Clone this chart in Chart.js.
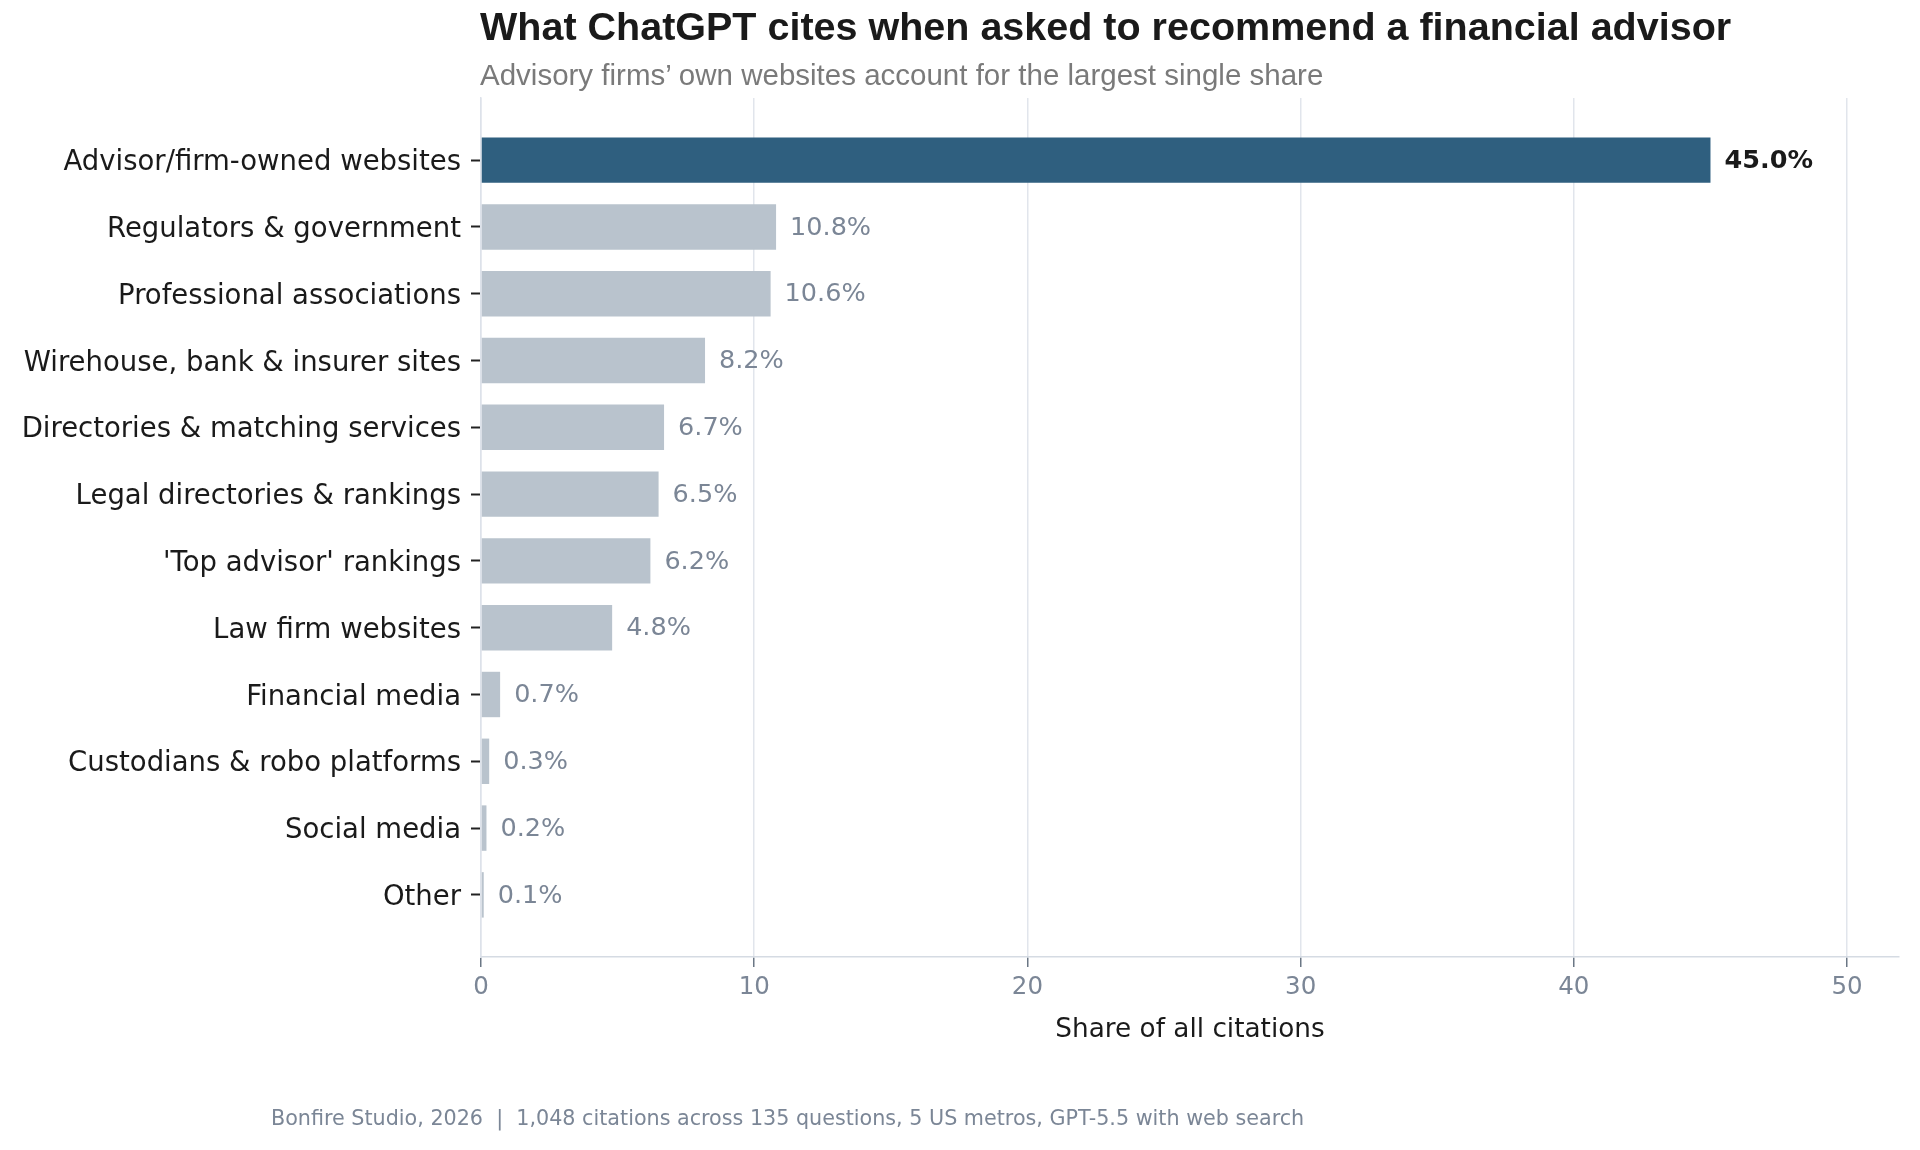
<!DOCTYPE html>
<html>
<head>
<meta charset="utf-8">
<script src="https://cdn.jsdelivr.net/npm/chart.js@4"></script>
<style>
    body { margin: 0; background: #fff; }
    #wrap { position: relative; width: 1920px; height: 1150px; }
    #grafico { position: absolute; left: 0; top: 0; }
    .titulo { position: absolute; left: 480px; top: 4px; font-family: "Liberation Sans", Arial, sans-serif; font-weight: bold; font-size: 39.5px; color: #1a1a1a; white-space: nowrap; }
    .subtitulo { position: absolute; left: 480px; top: 58px; font-family: "Liberation Sans", Arial, sans-serif; font-size: 29.5px; color: #7a7a7a; white-space: nowrap; }
    .pie { position: absolute; left: 271px; top: 1107px; font-family: "DejaVu Sans", sans-serif; font-size: 20.7px; line-height: 1.15; color: #7b8696; white-space: pre; }
</style>
</head>
<body>
<div id="wrap">
    <canvas id="grafico" width="1920" height="1150"></canvas>
    <div class="titulo">What ChatGPT cites when asked to recommend a financial advisor</div>
    <div class="subtitulo">Advisory firms’ own websites account for the largest single share</div>
    <div class="pie">Bonfire Studio, 2026  |  1,048 citations across 135 questions, 5 US metros, GPT-5.5 with web search</div>
</div>
<script>
// Datos del grafico
const categorias = [
    "Advisor/firm-owned websites",
    "Regulators & government",
    "Professional associations",
    "Wirehouse, bank & insurer sites",
    "Directories & matching services",
    "Legal directories & rankings",
    "'Top advisor' rankings",
    "Law firm websites",
    "Financial media",
    "Custodians & robo platforms",
    "Social media",
    "Other"
];
const porcentajes = [45.0, 10.8, 10.6, 8.2, 6.7, 6.5, 6.2, 4.8, 0.7, 0.3, 0.2, 0.1];
const ticksX = [0, 10, 20, 30, 40, 50];

const colorDestacado = "#2f5f7f";
const colorNormal = "#b9c3cd";

// etiquetas de valor al final de cada barra
const etiquetasPlugin = {
    id: "etiquetas",
    afterDatasetsDraw(chart) {
        const ctx = chart.ctx;
        const meta = chart.getDatasetMeta(0);
        ctx.save();
        ctx.textBaseline = "middle";
        ctx.textAlign = "left";
        meta.data.forEach((bar, i) => {
            if (i === 0) {
                ctx.font = "bold 25.5px 'DejaVu Sans'";
                ctx.fillStyle = "#1a1a1a";
            } else {
                ctx.font = "25.5px 'DejaVu Sans'";
                ctx.fillStyle = "#7b8696";
            }
            ctx.fillText(porcentajes[i].toFixed(1) + "%", bar.x + 14, bar.y + 1);
        });
        ctx.restore();
    }
};

const ctx = document.getElementById("grafico").getContext("2d");

new Chart(ctx, {
    type: "bar",
    data: {
        datasets: [{
            data: porcentajes.map((v, i) => ({ x: v, y: i })),
            backgroundColor: porcentajes.map((v, i) => i === 0 ? colorDestacado : colorNormal),
            borderWidth: 0,
            barPercentage: 0.68,
            categoryPercentage: 1
        }]
    },
    options: {
        indexAxis: "y",
        responsive: false,
        animation: false,
        layout: { padding: { left: 10, right: 21, top: 98, bottom: 100 } },
        plugins: {
            legend: { display: false },
            tooltip: { enabled: false }
        },
        scales: {
            x: {
                type: "linear",
                min: 0,
                max: 51.9,
                afterBuildTicks: axis => { axis.ticks = ticksX.map(v => ({ value: v })); },
                afterFit: scale => { scale.height = 93; },
                grid: { color: "#e1e5ec", lineWidth: 1.5, tickLength: 10, tickColor: "#6b7785" },
                border: { display: true, color: "#d5dbe3", width: 1.5 },
                ticks: { color: "#7b8696", font: { family: "DejaVu Sans", size: 24.5 }, padding: 6 },
                title: {
                    display: true,
                    text: "Share of all citations",
                    color: "#1a1a1a",
                    font: { family: "DejaVu Sans", size: 26.3 },
                    padding: { top: 4, bottom: 4 }
                }
            },
            y: {
                type: "linear",
                reverse: true,
                offset: false,
                min: -0.93,
                max: 11.93,
                afterBuildTicks: axis => { axis.ticks = categorias.map((c, i) => ({ value: i })); },
                afterFit: scale => { scale.width = 471; },
                grid: { offset: false, drawOnChartArea: false, drawTicks: true, tickLength: 10, tickColor: "#222222", tickWidth: 2 },
                border: { display: true, color: "#dde2ea", width: 1.5 },
                ticks: {
                    color: "#1a1a1a",
                    font: { family: "DejaVu Sans", size: 27.5 },
                    padding: 10,
                    labelOffset: 3,
                    autoSkip: false,
                    callback: v => categorias[v]
                }
            }
        }
    },
    plugins: [etiquetasPlugin]
});
</script>
</body>
</html>
